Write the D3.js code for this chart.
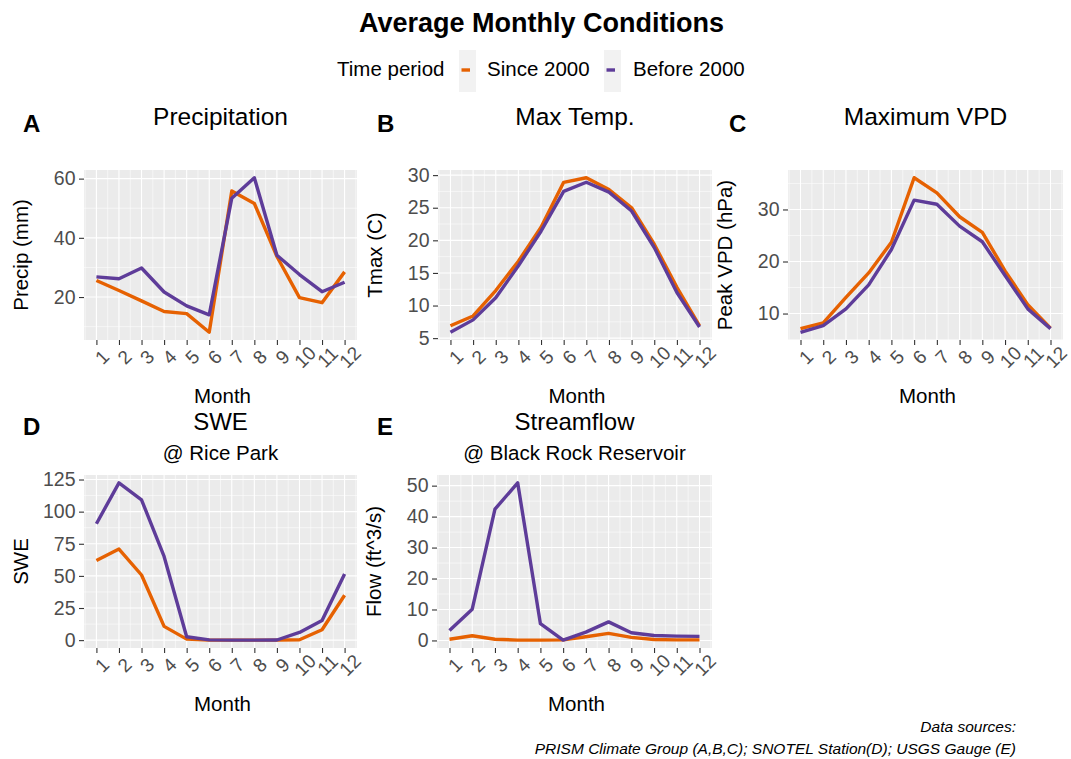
<!DOCTYPE html>
<html>
<head>
<meta charset="utf-8">
<script src="https://cdn.jsdelivr.net/npm/d3@7"></script>
<style>
  html, body { margin: 0; padding: 0; background: #ffffff; }
  svg { display: block; font-family: "Liberation Sans", Arial, Helvetica, sans-serif; }
</style>
</head>
<body>
<svg id="chart" width="1071" height="759"></svg>
<script>
// ---------------- data ----------------
const months = [1, 2, 3, 4, 5, 6, 7, 8, 9, 10, 11, 12];
const seriesNames = ["Since 2000", "Before 2000"];
const seriesColors = ["#E66101", "#5E3C99"];

const precipSince  = [25.6, 22.2, 18.7, 15.1, 14.4, 8.1, 55.8, 51.6, 33.7, 19.8, 18.1, 28.5];
const precipBefore = [26.8, 26.2, 29.8, 21.7, 17.0, 14.0, 53.4, 60.3, 34.1, 27.6, 21.8, 25.0];

const tmaxSince  = [6.9, 8.4, 12.3, 16.8, 22.0, 28.9, 29.6, 27.8, 25.0, 19.4, 12.8, 6.9];
const tmaxBefore = [5.9, 7.8, 11.2, 16.1, 21.4, 27.5, 28.9, 27.4, 24.5, 18.9, 12.0, 6.7];

const vpdSince  = [7.1, 8.2, 13.1, 17.8, 23.7, 36.1, 33.2, 28.6, 25.6, 18.2, 11.7, 7.2];
const vpdBefore = [6.4, 7.7, 10.9, 15.5, 22.3, 31.8, 31.0, 26.8, 23.8, 17.3, 10.9, 7.1];

const sweSince  = [61.9, 70.9, 50.7, 10.7, 0.8, 0.0, 0.0, 0.0, 0.0, 0.3, 8.1, 34.9];
const sweBefore = [90.6, 122.4, 109.2, 65.1, 2.6, 0.2, 0.0, 0.0, 0.1, 6.0, 15.2, 51.5];

const flowSince  = [0.4, 1.5, 0.4, 0.1, 0.1, 0.2, 1.2, 2.3, 1.0, 0.3, 0.2, 0.2];
const flowBefore = [3.2, 10.1, 42.4, 50.9, 5.4, 0.1, 2.7, 6.0, 2.5, 1.6, 1.4, 1.3];

const precipTicks = [20, 40, 60];
const tmaxTicks = [5, 10, 15, 20, 25, 30];
const vpdTicks = [10, 20, 30];
const sweTicks = [0, 25, 50, 75, 100, 125];
const flowTicks = [0, 10, 20, 30, 40, 50];

const mainTitle = "Average Monthly Conditions";
const legendTitle = "Time period";
const captionLines = ["Data sources:", "PRISM Climate Group (A,B,C); SNOTEL Station(D); USGS Gauge (E)"];

// ---------------- layout ----------------
const svg = d3.select("#chart");
svg.append("rect").attr("width", 1071).attr("height", 759).attr("fill", "#ffffff");

const panels = [
  { letter: "A", title: "Precipitation", subtitle: null, yTitle: "Precip (mm)",
    since: precipSince, before: precipBefore, ticks: precipTicks,
    box: { l: 84, r: 357, t: 170, b: 340 }, letterX: 23 },
  { letter: "B", title: "Max Temp.", subtitle: null, yTitle: "Tmax (C)",
    since: tmaxSince, before: tmaxBefore, ticks: tmaxTicks,
    box: { l: 438, r: 712, t: 170, b: 340 }, letterX: 377 },
  { letter: "C", title: "Maximum VPD", subtitle: null, yTitle: "Peak VPD (hPa)",
    since: vpdSince, before: vpdBefore, ticks: vpdTicks,
    box: { l: 788, r: 1063, t: 170, b: 340 }, letterX: 729 },
  { letter: "D", title: "SWE", subtitle: "@ Rice Park", yTitle: "SWE",
    since: sweSince, before: sweBefore, ticks: sweTicks,
    box: { l: 84, r: 357, t: 475, b: 648 }, letterX: 23 },
  { letter: "E", title: "Streamflow", subtitle: "@ Black Rock Reservoir", yTitle: "Flow (ft^3/s)",
    since: flowSince, before: flowBefore, ticks: flowTicks,
    box: { l: 437, r: 712, t: 475, b: 648 }, letterX: 377 }
];

function drawPanel(p) {
  const { l, r, t, b } = p.box;
  const x = d3.scaleLinear().domain([0.45, 12.55]).range([l, r]);
  const all = p.since.concat(p.before);
  const ext = d3.extent(all);
  const pad = (ext[1] - ext[0]) * 0.05;
  const y = d3.scaleLinear().domain([ext[0] - pad, ext[1] + pad]).range([b, t]);

  const g = svg.append("g");
  g.append("rect").attr("x", l).attr("y", t).attr("width", r - l).attr("height", b - t).attr("fill", "#EBEBEB");

  // minor grid
  const step = p.ticks[1] - p.ticks[0];
  const yMinor = [];
  for (let v = p.ticks[0] - step / 2; v <= y.domain()[1]; v += step) {
    if (v >= y.domain()[0]) yMinor.push(v);
  }
  const xMinor = [];
  for (let v = 0.5; v <= 12.5; v += 1) xMinor.push(v);
  g.selectAll(".ymin").data(yMinor).join("line")
    .attr("x1", l).attr("x2", r).attr("y1", d => y(d)).attr("y2", d => y(d))
    .attr("stroke", "#ffffff").attr("stroke-width", 0.55);
  g.selectAll(".xmin").data(xMinor).join("line")
    .attr("y1", t).attr("y2", b).attr("x1", d => x(d)).attr("x2", d => x(d))
    .attr("stroke", "#ffffff").attr("stroke-width", 0.55);
  // major grid
  g.selectAll(".ymaj").data(p.ticks).join("line")
    .attr("x1", l).attr("x2", r).attr("y1", d => y(d)).attr("y2", d => y(d))
    .attr("stroke", "#ffffff").attr("stroke-width", 1.1);
  g.selectAll(".xmaj").data(months).join("line")
    .attr("y1", t).attr("y2", b).attr("x1", d => x(d)).attr("x2", d => x(d))
    .attr("stroke", "#ffffff").attr("stroke-width", 1.1);

  // lines
  const line = d3.line().x((d, i) => x(months[i])).y(d => y(d));
  [p.since, p.before].forEach((s, i) => {
    g.append("path").attr("d", line(s)).attr("fill", "none")
      .attr("stroke", seriesColors[i]).attr("stroke-width", 3.4)
      .attr("stroke-linejoin", "round").attr("stroke-linecap", "butt");
  });

  // y axis
  const ya = g.append("g").attr("transform", `translate(${l},0)`)
    .call(d3.axisLeft(y).tickValues(p.ticks).tickSize(5).tickPadding(3.5).tickFormat(d3.format("d")));
  ya.select(".domain").remove();
  ya.selectAll(".tick line").attr("stroke", "#333333").attr("stroke-width", 1.1);
  ya.selectAll(".tick text").attr("fill", "#4D4D4D").style("font-size", "19.5px")
    .style("font-family", "'Liberation Sans', Arial, sans-serif");

  // x axis
  const xa = g.append("g").attr("transform", `translate(0,${b})`)
    .call(d3.axisBottom(x).tickValues(months).tickSize(5).tickFormat(d3.format("d")));
  xa.select(".domain").remove();
  xa.selectAll(".tick line").attr("stroke", "#333333").attr("stroke-width", 1.1);
  xa.selectAll(".tick text")
    .attr("fill", "#4D4D4D").style("font-size", "19px")
    .style("font-family", "'Liberation Sans', Arial, sans-serif")
    .attr("y", 0).attr("dy", "0.35em")
    .attr("text-anchor", "middle")
    .attr("transform", "translate(5,17) rotate(-45)");

  // axis titles
  g.append("text").attr("x", (l + r) / 2 + 2).attr("y", b + 63)
    .attr("text-anchor", "middle").style("font-size", "20.5px").attr("fill", "#000").text("Month");
  g.append("text")
    .attr("transform", `translate(${l - 62},${(t + b) / 2}) rotate(-90)`)
    .attr("dy", "0.3em").attr("text-anchor", "middle")
    .style("font-size", "20.5px").attr("fill", "#000").text(p.yTitle);

  // titles
  if (p.subtitle) {
    g.append("text").attr("x", (l + r) / 2).attr("y", t - 15)
      .attr("text-anchor", "middle").style("font-size", "20.5px").attr("fill", "#000").text(p.subtitle);
    g.append("text").attr("x", (l + r) / 2).attr("y", t - 45)
      .attr("text-anchor", "middle").style("font-size", "24px").attr("fill", "#000").text(p.title);
    g.append("text").attr("x", p.letterX).attr("y", t - 40)
      .style("font-size", "24px").style("font-weight", "bold").attr("fill", "#000").text(p.letter);
  } else {
    g.append("text").attr("x", (l + r) / 2).attr("y", t - 45)
      .attr("text-anchor", "middle").style("font-size", "24.5px").attr("fill", "#000").text(p.title);
    g.append("text").attr("x", p.letterX).attr("y", t - 38)
      .style("font-size", "24px").style("font-weight", "bold").attr("fill", "#000").text(p.letter);
  }
}

panels.forEach(drawPanel);

// main title
svg.append("text").attr("x", 541.5).attr("y", 32).attr("text-anchor", "middle")
  .style("font-size", "27px").style("font-weight", "bold").attr("fill", "#000").text(mainTitle);

// legend
const leg = svg.append("g");
leg.append("text").attr("x", 337).attr("y", 76).style("font-size", "20.5px").attr("fill", "#000").text(legendTitle);
const keyX = [459, 604];
const labelX = [487, 633];
seriesNames.forEach((name, i) => {
  leg.append("rect").attr("x", keyX[i]).attr("y", 50).attr("width", 17).attr("height", 42).attr("fill", "#F2F2F2");
  leg.append("line").attr("x1", keyX[i] + 2.5).attr("x2", keyX[i] + 11)
    .attr("y1", 70).attr("y2", 70).attr("stroke", seriesColors[i]).attr("stroke-width", 3.4);
  leg.append("text").attr("x", labelX[i]).attr("y", 76).style("font-size", "20.5px").attr("fill", "#000").text(name);
});

// caption
captionLines.forEach((c, i) => {
  svg.append("text").attr("x", 1016).attr("y", 732 + i * 22).attr("text-anchor", "end")
    .style("font-size", "15.5px").style("font-style", "italic").attr("fill", "#000").text(c);
});
</script>
</body>
</html>
